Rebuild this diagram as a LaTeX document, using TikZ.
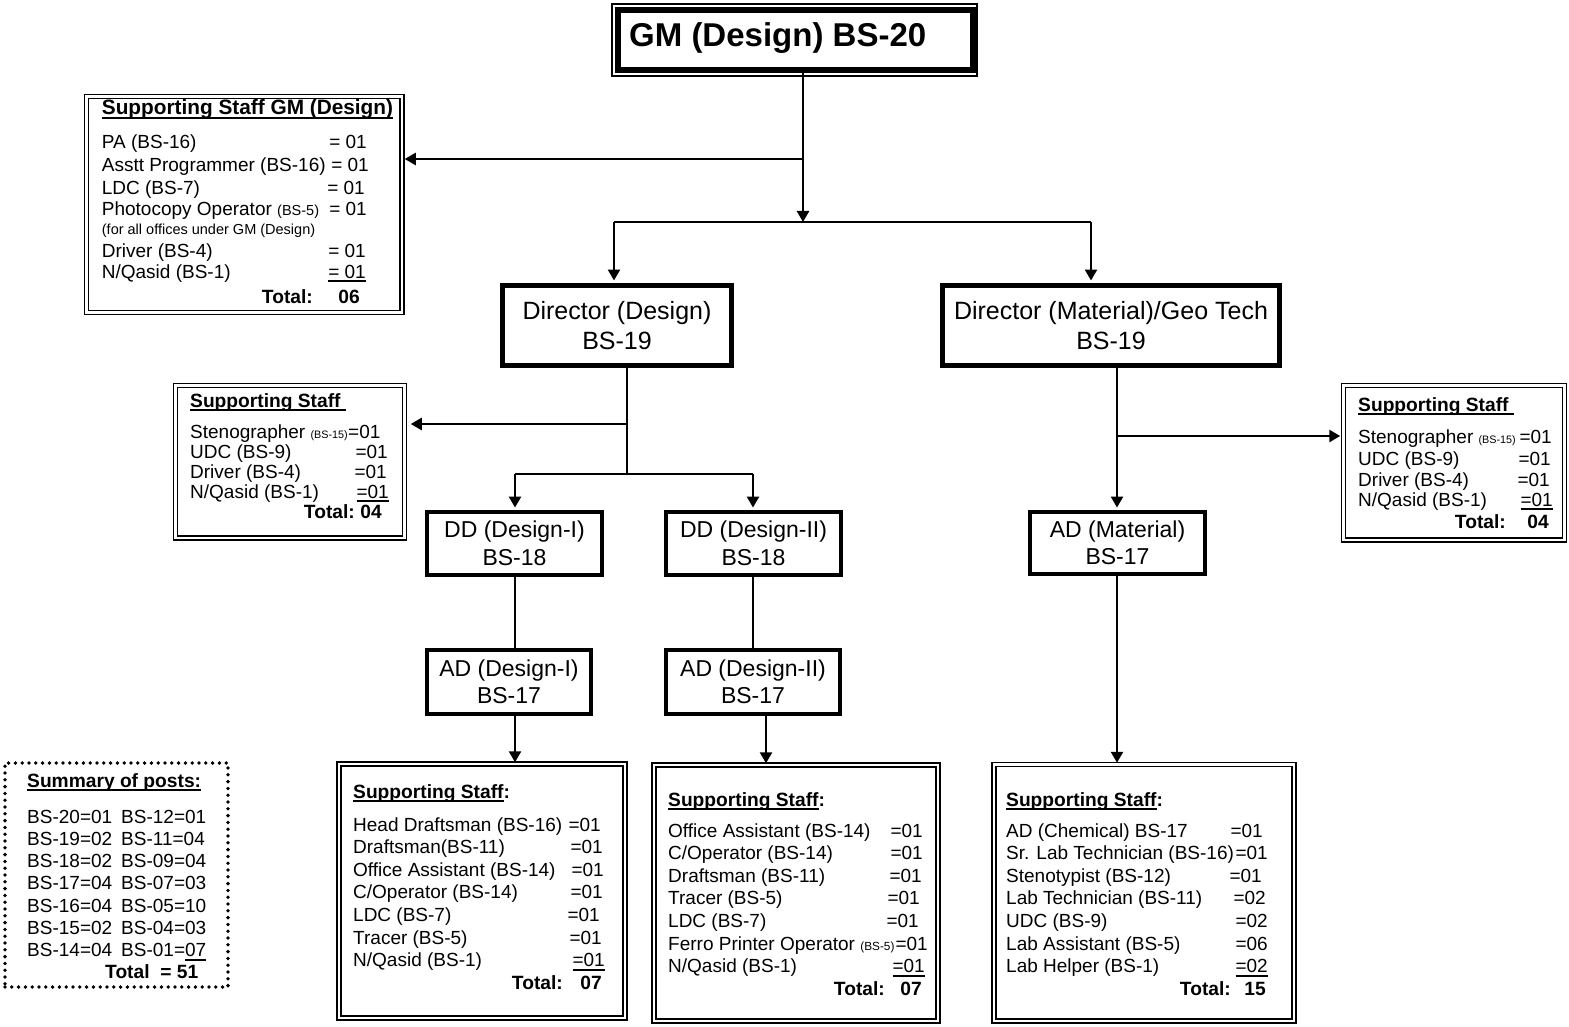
\documentclass[tikz,border=0pt]{standalone}
\usepackage{fontspec}
\setmainfont{Liberation Sans}
\usetikzlibrary{arrows.meta}
\newcommand\fItem{\fontsize{19}{22}\selectfont}
\newcommand\fSm{\fontsize{14.5}{16}\selectfont}
\newcommand\fTiny{\fontsize{10.8}{12}\selectfont}
\newcommand\fFerro{\fontsize{11.8}{13}\selectfont}
\newcommand\fHd{\fontsize{19.2}{23}\selectfont\bfseries}
\newcommand\myuline[1]{\setbox0=\hbox{#1}\rlap{\rule[-4pt]{\wd0}{1.7pt}}\box0}
\begin{document}
\begin{tikzpicture}[x=1pt,y=-1pt,line join=miter,
  dirbox/.style={draw, line width=5pt, inner sep=0pt, align=center, font=\fontsize{25}{30}\selectfont},
  subbox/.style={draw, line width=4.5pt, inner sep=0pt, align=center, font=\fontsize{23}{27.5}\selectfont},
  dblbox/.style={draw, line width=1.5pt, double=white, double distance=2.5pt, inner sep=0pt},
  itemL/.style={anchor=base west, inner sep=0pt, font=\fItem},
  itemR/.style={anchor=base east, inner sep=0pt, font=\fItem},
  headL/.style={anchor=base west, inner sep=0pt, font=\fHd},
  headR/.style={anchor=base east, inner sep=0pt, font=\fHd},
  conn/.style={line width=2.5pt},
  arr/.style={conn, -{Triangle[length=11pt,width=12pt]}},
  sumbox/.style={draw, line width=3.8pt, line cap=round, dash pattern=on 0pt off 6.8pt, inner sep=0pt}]
\useasboundingbox (0,0) rectangle (1569,1027);

% ---------- GM box
\node[draw, line width=1.3pt, minimum width=365pt, minimum height=72pt, inner sep=0pt] (gmo) at (794.5,40) {};
\node[draw, line width=5.5pt, minimum width=355pt, minimum height=60pt, inner sep=0pt] (gm) at (795.5,40) {};
\node[anchor=base west, inner sep=0pt, font=\fontsize{33}{36}\selectfont\bfseries] (gmt) at (629,47) {GM (Design) BS-20};

% ---------- Directors
\node[dirbox, minimum width=229pt, minimum height=80pt] (dird) at (617,325.5) {Director (Design)\\BS-19};
\node[dirbox, minimum width=337pt, minimum height=80pt] (dirm) at (1111,325.5) {Director (Material)/Geo Tech\\BS-19};

% ---------- DD / AD
\node[subbox, minimum width=175pt, minimum height=63pt] (dd1) at (514.5,543.5) {DD (Design-I)\\BS-18};
\node[subbox, minimum width=175pt, minimum height=63pt] (dd2) at (753.5,543.5) {DD (Design-II)\\BS-18};
\node[subbox, minimum width=164pt, minimum height=64pt] (ad1) at (509,682) {AD (Design-I)\\BS-17};
\node[subbox, minimum width=174pt, minimum height=64pt] (ad2) at (753,682) {AD (Design-II)\\BS-17};
\node[subbox, minimum width=175pt, minimum height=62pt] (adm) at (1117.5,543) {AD (Material)\\BS-17};

% ---------- Supporting staff GM
\node[dblbox, minimum width=315.3pt, minimum height=216pt] (gsup) at (244.35,204.5) {};
\node[headL, font=\fontsize{20.8}{24}\selectfont\bfseries] (g0) at (101.7,115) {\myuline{Supporting Staff GM (Design)}};
\node[itemL] (g1) at (101.7,148.3) {PA (BS-16)};
\node[itemR] (g1v) at (367,148.3) {= 01};
\node[itemL] (g2) at (101.7,172) {Asstt Programmer (BS-16)};
\node[itemR] (g2v) at (369,172) {= 01};
\node[itemL] (g3) at (101.7,195) {LDC (BS-7)};
\node[itemR] (g3v) at (365,195) {= 01};
\node[itemL] (g4) at (101.7,216) {Photocopy Operator {\fSm(BS-5)}};
\node[itemR] (g4v) at (367,216) {= 01};
\node[itemL, font=\fSm] (g5) at (101.7,235) {(for all offices under GM (Design)};
\node[itemL] (g6) at (101.7,258) {Driver (BS-4)};
\node[itemR] (g6v) at (366,258) {= 01};
\node[itemL] (g7) at (101.7,278) {N/Qasid (BS-1)};
\node[itemR] (g7v) at (366,278) {\myuline{= 01}};
\node[headR] (gt) at (313,303) {Total:};
\node[headR] (gtv) at (360,303) {06};

% ---------- Supporting staff left (Director Design)
\node[dblbox, minimum width=229pt, minimum height=152.5pt] (lsup) at (290,461.75) {};
\node[headL] (l0) at (190,407) {\myuline{Supporting Staff\ }};
\node[itemL] (l1) at (190,438) {Stenographer {\fTiny(BS-15)}};
\node[anchor=base west, inner sep=0pt, font=\fItem] (l1v) at (l1.base east) {=01};
\node[itemL] (l2) at (190,458) {UDC (BS-9)};
\node[itemR] (l2v) at (388,458) {=01};
\node[itemL] (l3) at (190,478) {Driver (BS-4)};
\node[itemR] (l3v) at (387,478) {=01};
\node[itemL] (l4) at (190,498) {N/Qasid (BS-1)};
\node[itemR] (l4v) at (389,498) {\myuline{=01}};
\node[headR] (lt) at (355,518) {Total:};
\node[headR] (ltv) at (382,518) {04};

% ---------- Supporting staff right (Director Material)
\node[dblbox, minimum width=221pt, minimum height=154.5pt] (rsup) at (1454,462.75) {};
\node[headL] (r0) at (1358,411) {\myuline{Supporting Staff\ }};
\node[itemL] (r1) at (1358,443) {Stenographer {\fTiny(BS-15)}};
\node[itemR] (r1v) at (1552,443) {=01};
\node[itemL] (r2) at (1358,465) {UDC (BS-9)};
\node[itemR] (r2v) at (1551,465) {=01};
\node[itemL] (r3) at (1358,486) {Driver (BS-4)};
\node[itemR] (r3v) at (1550,486) {=01};
\node[itemL] (r4) at (1358,506) {N/Qasid (BS-1)};
\node[itemR] (r4v) at (1553,506) {\myuline{=01}};
\node[headR] (rt) at (1506,528) {Total:};
\node[headR] (rtv) at (1549,528) {04};

% ---------- Summary
\node[sumbox, minimum width=223pt, minimum height=224pt] (sum) at (116.5,875) {};
\node[headL] (s0) at (27,787) {\myuline{Summary of posts:}};
\node[itemL] (s1a) at (27,823) {BS-20=01};   \node[itemL] (s1b) at (121,823) {BS-12=01};
\node[itemL] (s2a) at (27,845.3) {BS-19=02}; \node[itemL] (s2b) at (121,845.3) {BS-11=04};
\node[itemL] (s3a) at (27,867.6) {BS-18=02}; \node[itemL] (s3b) at (121,867.6) {BS-09=04};
\node[itemL] (s4a) at (27,889.9) {BS-17=04}; \node[itemL] (s4b) at (121,889.9) {BS-07=03};
\node[itemL] (s5a) at (27,912.2) {BS-16=04}; \node[itemL] (s5b) at (121,912.2) {BS-05=10};
\node[itemL] (s6a) at (27,934.5) {BS-15=02}; \node[itemL] (s6b) at (121,934.5) {BS-04=03};
\node[itemL] (s7a) at (27,956.8) {BS-14=04}; \node[itemL] (s7b) at (121,956.8) {BS-01=\myuline{07}};
\node[headL] (st) at (105,978) {Total\ \ = 51};

% ---------- Bottom box 1
\node[dblbox, minimum width=286pt, minimum height=254pt] (b1) at (482,891) {};
\node[headL] (a0) at (353,798) {\myuline{Supporting Staff}:};
\node[itemL] (a1) at (353,831) {Head Draftsman (BS-16)};   \node[itemR] (a1v) at (601,831) {=01};
\node[itemL] (a2) at (353,853.6) {Draftsman(BS-11)};       \node[itemR] (a2v) at (603,853.6) {=01};
\node[itemL] (a3) at (353,876.2) {Office Assistant (BS-14)}; \node[itemR] (a3v) at (604,876.2) {=01};
\node[itemL] (a4) at (353,898.8) {C/Operator (BS-14)};     \node[itemR] (a4v) at (603,898.8) {=01};
\node[itemL] (a5) at (353,921.4) {LDC (BS-7)};             \node[itemR] (a5v) at (600,921.4) {=01};
\node[itemL] (a6) at (353,944) {Tracer (BS-5)};            \node[itemR] (a6v) at (602,944) {=01};
\node[itemL] (a7) at (353,966.6) {N/Qasid (BS-1)};         \node[itemR] (a7v) at (605,966.6) {\myuline{=01}};
\node[headR] (at) at (563,989) {Total:};
\node[headR] (atv) at (602,989) {07};

% ---------- Bottom box 2
\node[dblbox, minimum width=284pt, minimum height=256pt] (b2) at (796,893) {};
\node[headL] (c0) at (668,806) {\myuline{Supporting Staff}:};
\node[itemL] (c1) at (668,837) {Office Assistant (BS-14)}; \node[itemR] (c1v) at (923,837) {=01};
\node[itemL] (c2) at (668,859.6) {C/Operator (BS-14)};    \node[itemR] (c2v) at (923,859.6) {=01};
\node[itemL] (c3) at (668,882.2) {Draftsman (BS-11)};     \node[itemR] (c3v) at (922,882.2) {=01};
\node[itemL] (c4) at (668,904.8) {Tracer (BS-5)};         \node[itemR] (c4v) at (920,904.8) {=01};
\node[itemL] (c5) at (668,927.4) {LDC (BS-7)};            \node[itemR] (c5v) at (919,927.4) {=01};
\node[itemL] (c6) at (668,950) {Ferro Printer Operator {\fFerro(BS-5)}}; \node[itemR] (c6v) at (928,950) {=01};
\node[itemL] (c7) at (668,972.6) {N/Qasid (BS-1)};        \node[itemR] (c7v) at (925,972.6) {\myuline{=01}};
\node[headR] (ct) at (885,995) {Total:};
\node[headR] (ctv) at (922,995) {07};

% ---------- Bottom box 3
\node[dblbox, minimum width=300pt, minimum height=256.5pt] (b3) at (1144,892.75) {};
\node[headL] (e0) at (1006,806) {\myuline{Supporting Staff}:};
\node[itemL] (e1) at (1006,837) {AD (Chemical) BS-17};        \node[itemR] (e1v) at (1263,837) {=01};
\node[itemL] (e2) at (1006,859.6) {Sr. Lab Technician (BS-16)}; \node[itemR] (e2v) at (1268,859.6) {=01};
\node[itemL] (e3) at (1006,882.2) {Stenotypist (BS-12)};      \node[itemR] (e3v) at (1262,882.2) {=01};
\node[itemL] (e4) at (1006,904.8) {Lab Technician (BS-11)};   \node[itemR] (e4v) at (1266,904.8) {=02};
\node[itemL] (e5) at (1006,927.4) {UDC (BS-9)};               \node[itemR] (e5v) at (1268,927.4) {=02};
\node[itemL] (e6) at (1006,950) {Lab Assistant (BS-5)};       \node[itemR] (e6v) at (1268,950) {=06};
\node[itemL] (e7) at (1006,972.6) {Lab Helper (BS-1)};        \node[itemR] (e7v) at (1268,972.6) {\myuline{=02}};
\node[headR] (et) at (1231,995) {Total:};
\node[headR] (etv) at (1266,995) {15};

% ---------- connectors
\coordinate (jg) at (803,159);
\coordinate (jg2) at (803,222);
\coordinate (jL) at (614,222);
\coordinate (jR) at (1091,222);
\draw[conn] (gm.south -| jg) -- (jg);
\draw[arr] (jg) -- (jg2);
\draw[arr, shorten >=2pt] (jg) -- (gsup.east |- jg);
\draw[conn] (jL) -- (jR);
\draw[arr, shorten >=2.5pt] (jL) -- (jL |- dird.north);
\draw[arr, shorten >=2.5pt] (jR) -- (jR |- dirm.north);

\coordinate (jd) at (627,424);
\coordinate (jd2) at (627,474);
\coordinate (jdL) at (515,474);
\coordinate (jdR) at (753,474);
\draw[conn] (dird.south -| jd) -- (jd2);
\draw[arr, shorten >=5.5pt] (jd) -- (lsup.east |- jd);
\draw[conn] (jdL) -- (jdR);
\draw[arr, shorten >=2.2pt] (jdL) -- (jdL |- dd1.north);
\draw[arr, shorten >=2.2pt] (jdR) -- (jdR |- dd2.north);
\draw[conn] (dd1.south -| jdL) -- (ad1.north -| jdL);
\draw[conn] (dd2.south -| jdR) -- (ad2.north -| jdR);
\draw[arr, shorten >=1pt] (ad1.south -| jdL) -- (b1.north -| jdL);
\coordinate (jb2) at (766,740);
\draw[arr, shorten >=1pt] (ad2.south -| jb2) -- (b2.north -| jb2);

\coordinate (jm) at (1117,436);
\draw[arr, shorten >=2.2pt] (dirm.south -| jm) -- (adm.north -| jm);
\draw[arr, shorten >=2.5pt] (jm) -- (rsup.west |- jm);
\draw[arr, shorten >=1pt] (adm.south -| jm) -- (b3.north -| jm);
\end{tikzpicture}
\end{document}
